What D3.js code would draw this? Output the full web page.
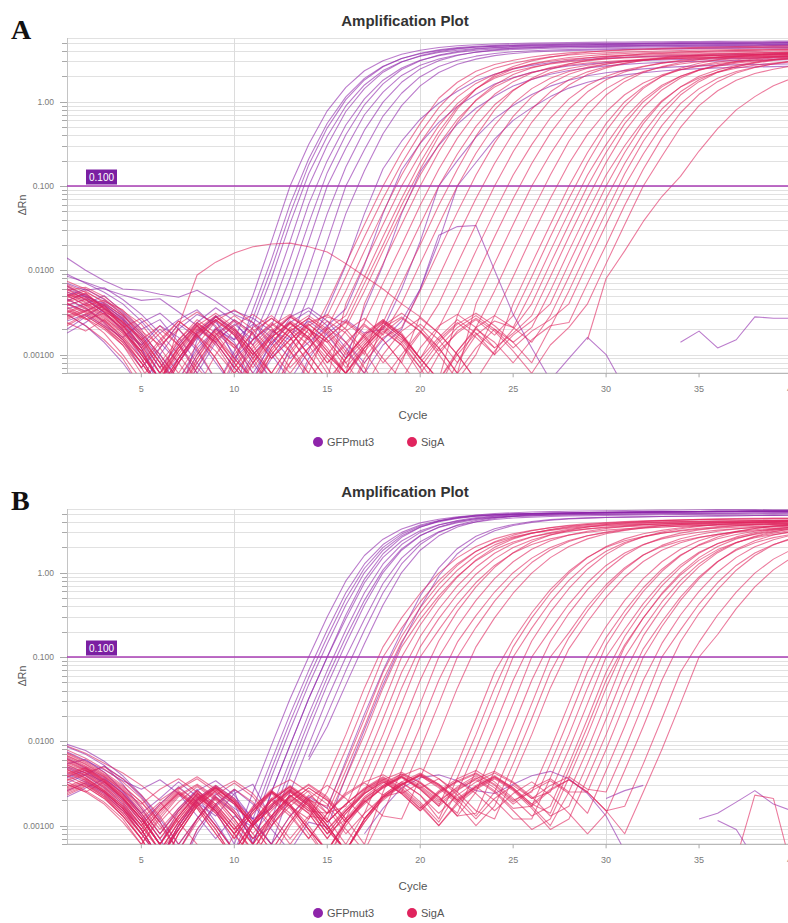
<!DOCTYPE html>
<html>
<head>
<meta charset="utf-8">
<script src="https://cdn.jsdelivr.net/npm/d3@7"></script>
<style>
  body { margin: 0; background: #fff; }
  svg { font-family: "Liberation Sans", Arial, sans-serif; }
</style>
</head>
<body>
<svg id="chart" width="788" height="923"></svg>
<script>
// ---- Data -------------------------------------------------------------------
// Each row: [first cycle, ΔRn x 1000 at consecutive cycles ...]; 0 = no point.
const cycleTicks = [5, 10, 15, 20, 25, 30, 35, 40];
const cycleGrid = [10, 20, 30];
const yLabelValues = [0.001, 0.01, 0.1, 1];
const yLabelText = ["0.00100", "0.0100", "0.100", "1.00"];
const thresholdValue = 0.1;
const targetNames = ["GFPmut3", "SigA"];
const targetColors = ["#8e24aa", "#e0245e"];

const gfpA = [
  [1, 5,6,4.5,3,1.8,1,0.5,1.2,2, 1.5,5,22,100,310,780,1480,2330,3070,3660,4080,4400,4610,4750,4830,4900,4950,4990,5030,5060,5090,5110,5130,5150,5170,5180,5200,5210,5220,5230,5240],
  [1, 3.5,4,5,3.2,2,2.6,1.4,0.6,0.3,0.8, 3.4,13.5,61,209,555,1140,1890,2640,3260,3710,4050,4290,4450,4540,4600,4650,4700,4700,4750,4800,4800,4850,4850,4900,4900,4900,4950,4950,5000,5000],
  [1, 6.5,5,3.8,2.4,1.2,0.4,0.3,1.5,2.8,3.3, 2.7,10.5,47,178,490,1060,1810,2600,3250,3750,4120,4380,4550,4660,4730,4790,4830,4870,4900,4930,4960,4980,5000,5020,5040,5060,5070,5080,5090,5100],
  [1, 2.5,3,2.2,1.6,2.4,3.1,2,1.1,0.5,0.3, 2.2,8.1,36,140,390,890,1580,2340,2980,3470,3830,4080,4270,4370,4440,4490,4530,4570,4600,4630,4650,4670,4690,4710,4720,4730,4740,4750,4760,4770],
  [1, 9,7,5.5,4,2.5,1.4,0.8,1.6,2.6,0.9, 1.5,5,22,100,305,765,1430,2240,2960,3520,3930,4230,4440,4570,4650,4710,4760,4800,4830,4860,4890,4910,4930,4950,4970,4980,4990,5000,5010,5020],
  [1, 4,3.3,4.2,2.8,1.5,0.7,1.3,2.4,3.6,2.5,1.3, 3.4,13.5,61,200,530,1080,1800,2510,3100,3520,3850,4080,4230,4310,4370,4420,4460,4490,4520,4540,4560,4580,4600,4610,4620,4630,4640,4650,4660],
  [1, 1.8,2.4,3.5,2.6,1.2,0.5,0.3,0.6,1.4,2.3,1.5, 2.2,8.1,36,144,405,920,1630,2410,3070,3580,3950,4210,4400,4510,4580,4640,4690,4730,4760,4790,4810,4830,4850,4870,4880,4890,4900,4910,4920],
  [1, 7,5.8,6.2,4.5,3,1.8,2.6,3.4,2.1,1,0.5, 1.5,5,22,100,280,700,1300,2050,2700,3210,3580,3860,4050,4170,4240,4300,4340,4380,4410,4440,4460,4480,4500,4520,4530,4540,4550,4560,4570],
  [1, 3,2.2,1.4,0.8,0.4,1,2,3,2.4,1.5,2.3,1.3, 2.7,10.5,47,168,460,990,1700,2450,3070,3530,3880,4120,4290,4380,4450,4510,4550,4590,4620,4650,4670,4690,4710,4730,4740,4750,4760,4770],
  [1, 5.5,4.8,3.2,1.9,1.3,2.2,1.6,0.8,0.4,1.1,2.7,1.9, 1.5,5,22,100,270,675,1260,1980,2610,3100,3470,3740,3920,4030,4100,4160,4200,4240,4270,4300,4320,4340,4360,4380,4390,4400,4410,4420],
  [1, 4.4,5.2,3.6,2.3,1,0.5,0.9,1.8,2.9,1.7,0.8,0.4,1.2, 2.7,10.5,47,152,417,900,1540,2220,2780,3200,3520,3740,3890,3980,4040,4090,4130,4160,4190,4220,4240,4260,4280,4290,4300,4310,4320],
  [1, 2,2.8,3.9,2.7,1.4,0.6,0.3,0.7,1.7,2.6,1.8,1,0.5,1.1, 3.5,11.5,47,160,340,620,960,1330,1770,2120,2440,2700,2900,3060,3190,3290,3370,3430,3470,3510,3550,3580,3600,3620,3640,3660],
  [1, 14,10,7.5,6,5.8,5.2,4.8,5.8,4.3,3,2.4,1.6,0.9,1.4,2.2, 3.5,11.5,47,155,320,570,880,1220,1620,1930,2230,2470,2650,2790,2910,3000,3080,3130,3170,3210,3240,3270,3290,3310,3330],
  [1, 8.5,7.2,6,5.1,4.4,4.6,3.2,2.2,1.4,0.7,0.4,0.9,1.7,2.5,1.7,0.9, 3.5,11.5,47,148,304,542,837,1160,1540,1840,2120,2350,2520,2660,2770,2860,2930,2980,3020,3055,3085,3110,3130,3150],
  [1, 3.8,4.6,3.1,2,0.9,0.4,0.8,1.9,2.8,2,1.1,0.5,0.3,0.9,1.8,2.6,1.8, 2,6,22,100,200,380,630,900,1220,1530,1800,2030,2210,2340,2450,2540,2610,2660,2700,2740,2760,2790,2810],
  [1, 6,4.9,4,2.6,1.7,0.9,0.4,1,2.1,1.4,0.6,1.3,2.4,3.3,2.2,1.2,0.6,1.3, 2,6,22,100,190,360,600,850,1150,1450,1700,1910,2080,2210,2310,2400,2470,2520,2550,2580,2610,2640],
  [1, 4.5,3.6,2.4,1.5,0.7,1.2,2.3,1.6,0.8,0.4,1,1.8,2.8,3.6,2.5,1.4,0.8,1.5,2.5, 6,26,33,34,10,3,1.2,0.5,0.9,1.6,1,0.4],
  [34, 1.4,1.9,1.2,1.5,2.8,2.7,2.7]
];

const sigaA = [
  [1, 5.2,4.6,3.9,2.1,1.1,0.5,1.3,2.4,1.6,0.8,0.4,1.2,2.1,1.5, 4,12,35,100,250,550,1100,1700,2300,2760,3100,3390,3620,3800,3910,4000,4080,4140,4200,4250,4300,4340,4370,4390,4420,4440],
  [1, 6.8,5.5,4.3,3.4,2,0.9,0.4,0.8,1.7,2.6,1.8,0.9,1.5,2.4, 2.9,8.4,25,71,185,424,850,1440,2000,2490,2860,3160,3400,3580,3710,3800,3880,3940,3990,4050,4100,4140,4170,4190,4210,4240],
  [1, 3.1,3.8,4.4,3,1.6,0.8,0.3,0.7,1.5,2.2,3,2.1,1.1,0.6, 2.1,5.7,17,49,135,325,670,1140,1650,2120,2490,2780,3020,3200,3330,3430,3500,3565,3615,3665,3710,3750,3780,3805,3825,3845],
  [1, 4.3,5.4,3.5,2.4,1.5,2.2,1.3,0.6,0.3,0.9,1.9,2.7,1.9,1,0.5, 4,12,35,100,240,520,950,1430,1900,2280,2570,2800,2990,3140,3230,3310,3370,3420,3470,3520,3550,3580,3610,3630,3650],
  [1, 2.2,2.9,2.1,1.3,0.6,0.3,0.8,1.6,2.5,3.4,2.4,1.4,0.7,1.2,2, 2.9,8.4,25,71,190,440,870,1410,1970,2440,2810,3100,3340,3510,3640,3730,3810,3870,3920,3970,4020,4060,4090,4120,4140],
  [1, 5.8,6.3,4.9,3.3,2.3,1.2,0.6,1.3,2.5,1.7,0.9,0.4,0.8,1.7,2.8, 2.4,7,20,59,158,390,820,1420,2050,2620,3050,3380,3660,3860,4020,4130,4220,4290,4350,4410,4460,4510,4540,4570,4600],
  [1, 3.6,2.7,1.8,1,0.5,1.2,2.3,3.2,2.2,1.2,0.5,0.3,1,2,1.4, 2.1,5.7,17,49,135,310,620,1030,1490,1910,2240,2500,2720,2880,3000,3090,3150,3210,3250,3300,3340,3380,3400,3420,3440],
  [1, 6.1,4.4,3.2,2.5,1.4,0.7,1.4,2.2,1.3,0.6,1.1,1.9,2.9,2,1,0.6, 4,12,35,100,255,570,1050,1580,2100,2520,2840,3100,3310,3470,3570,3650,3730,3780,3830,3890,3930,3960,3990,4010],
  [1, 2.8,3.4,2.5,1.7,0.9,0.4,0.9,1.8,2.6,1.7,0.8,1.4,2.3,1.6,0.8,1.3, 2.4,7,20,59,158,370,740,1225,1730,2190,2545,2820,3050,3220,3350,3440,3515,3575,3625,3675,3720,3755,3785,3810],
  [1, 4.9,5.7,4.1,2.9,1.8,1,0.5,1.1,2,1.3,0.6,0.3,0.8,1.6,2.5,1.8,1, 4,12,35,100,240,510,920,1380,1840,2210,2480,2710,2900,3040,3130,3200,3270,3310,3360,3400,3440,3470,3500],
  [1, 3.3,2.6,3.1,2.2,1.2,0.6,1.5,2.6,1.8,0.9,0.5,1.1,2.1,2.9,2,1.1,0.6, 2.4,7,20,59,158,390,800,1350,1900,2410,2800,3100,3360,3540,3690,3780,3870,3930,3990,4040,4090,4130,4160],
  [1, 7.4,6,4.6,3.1,1.9,1.3,2,1.2,0.5,0.3,0.8,1.7,1.1,0.5,1,1.9,2.7,1.7, 4,12,35,100,245,525,950,1430,1900,2280,2570,2800,2990,3140,3230,3310,3370,3420,3470,3520,3550,3580],
  [1, 4.1,3.2,2.3,1.5,0.8,0.4,0.9,1.7,2.8,1.9,1,1.6,2.4,1.5,0.7,0.3,0.8,1.6, 2.1,5.7,17,49,135,325,670,1140,1650,2120,2490,2780,3020,3200,3330,3430,3500,3565,3615,3665,3710,3750],
  [1, 5,3.9,2.8,1.8,1.1,1.8,1,0.5,0.3,0.7,1.5,2.3,1.6,0.8,0.4,1.1,2.2,1.5,0.8, 2.9,8.4,25,71,185,424,820,1310,1820,2260,2600,2870,3090,3250,3370,3450,3530,3580,3630,3680,3725],
  [1, 2.6,3.3,4,2.9,1.7,0.8,0.4,0.9,2,2.9,2,1.1,0.6,1.2,2.1,1.4,0.7,0.3,0.9,1.8, 4,12,35,100,255,570,1050,1580,2100,2520,2840,3100,3310,3470,3570,3650,3730,3780,3830,3890],
  [1, 6.4,4.8,3.5,2.2,1.3,0.6,1.2,2.1,1.4,0.7,0.4,1,1.9,2.7,1.8,0.9,1.5,2.4,1.6,0.9, 2.1,5.7,17,49,135,310,640,1080,1570,2010,2370,2640,2870,3040,3160,3260,3330,3390,3430,3480],
  [1, 3.9,4.5,3.2,2,1,0.5,0.3,0.9,1.8,1.2,2.1,2.9,1.9,1,0.5,0.9,1.7,2.6,1.7,0.9,0.5, 2.9,8.4,25,71,185,424,820,1310,1820,2260,2600,2870,3090,3250,3370,3450,3530,3580,3630],
  [1, 5.6,4.2,3,2.1,2.7,1.6,0.8,0.4,1,2,1.3,0.6,1.3,2.2,3,2,1.1,0.5,1,1.9,1.2,0.6, 4,12,35,100,240,520,950,1430,1900,2280,2570,2800,2990,3140,3230,3310,3370,3420],
  [1, 2.4,1.9,2.6,1.8,1,0.5,1.1,2.2,3.1,2.1,1.1,0.6,0.3,0.8,1.6,2.4,1.6,0.8,1.4,2.3,1.5,0.8, 2.1,5.7,17,49,135,340,700,1200,1730,2230,2610,2920,3170,3360,3500,3600,3680,3740],
  [1, 4.7,5.3,3.7,2.5,1.5,0.8,0.4,1,1.9,1.3,0.7,1.4,2.4,1.6,0.9,0.5,1.2,2.1,2.8,1.9,1,0.5,1, 2.9,8.4,25,71,185,410,760,1210,1670,2080,2390,2640,2840,2990,3100,3170,3250],
  [1, 3.4,2.7,2,1.3,0.7,1.4,2.5,1.7,0.9,0.4,0.8,1.6,2.5,1.8,1,0.6,1.3,2.2,1.5,0.8,1.5,2.4,1.6,1, 4,12,35,100,250,550,1000,1500,2000,2400,2700,2950,3150,3300,3400,3480],
  [1, 6.6,5.1,3.6,2.4,1.6,0.8,1.5,2.4,1.6,0.9,0.5,1.2,2,1.3,0.6,0.3,0.9,1.8,2.7,1.9,1.1,1.8,2.6,1.7, 2.9,8.4,25,71,190,450,880,1440,2000,2490,2860,3160,3400,3580,3710,3800],
  [1, 2.9,3.6,2.6,1.6,0.9,0.4,0.8,1.7,2.6,1.8,1,1.7,2.8,2,1.1,0.6,1.2,2,1.3,0.7,0.3,0.8,1.7,2.5, 2.1,5.7,17,49,135,310,640,1080,1570,2010,2370,2640,2870,3040,3160,3260],
  [1, 5.1,3.8,2.7,1.9,1.1,0.5,1.1,2,2.9,2,1.1,0.6,1.3,2.3,1.5,0.8,0.4,1,1.9,2.7,1.8,1,0.5,1.1,2, 4,12,35,100,250,550,1000,1500,2000,2400,2700,2950,3150,3300,3400],
  [1, 4.2,4.9,3.4,2.2,1.2,2,1.3,0.7,0.4,1,1.8,2.7,1.9,1,1.6,2.5,1.7,0.9,0.5,1.2,2.2,3,2.1,1.2,1.8, 2.9,8.4,25,71,190,445,860,1380,1910,2370,2730,3010,3240,3410,3540],
  [1, 3.7,2.9,2.1,1.4,0.7,0.3,0.9,1.9,2.8,1.9,1,0.5,1.1,2,1.4,0.7,1.3,2.2,3.1,2.1,1.2,0.6,1.2,2,1.4, 2.1,5.7,17,49,135,300,600,1030,1490,1910,2240,2500,2720,2880,3000],
  [1, 5.9,4.5,3.3,2.3,1.3,0.6,1.2,2.2,1.5,0.8,1.5,2.4,1.6,0.8,0.4,0.9,1.8,2.6,1.8,0.9,1.6,2.6,1.8,1,1.7,2.5, 4,12,35,100,250,550,1000,1500,2000,2400,2700,2950,3150,3300],
  [1, 2.3,3,3.8,2.7,1.5,0.7,0.3,0.8,1.6,2.5,1.7,0.9,1.5,2.3,1.5,0.8,1.4,2.4,1.6,0.8,0.4,1.1,2.1,2.9,2.1,1.4, 2.9,8.4,25,71,185,424,820,1310,1820,2260,2600,2870,3090,3250],
  [1, 4.6,3.5,2.5,1.6,0.8,1.5,2.5,1.7,0.9,0.4,0.9,1.8,2.8,2,1.1,0.6,1.2,2.1,1.4,0.7,1.4,2.3,3.1,2.2,1.4,0.8, 2.1,5.7,17,49,140,340,700,1200,1730,2230,2610,2920,3170,3360],
  [1, 3.2,4,2.9,1.9,1.1,0.5,1,2,1.4,0.7,1.3,2.2,3,2.1,1.2,0.6,1.1,1.9,1.3,0.6,1.2,2.1,2.9,2,1.2,1.9,2.6, 4,12,35,100,240,520,950,1430,1900,2280,2570,2800,2990],
  [1, 5.3,4.1,3,2,1,0.5,1.2,2.3,1.6,0.8,0.4,1,1.9,2.7,1.9,1,1.6,2.5,1.7,0.9,0.5,1.1,2,1.4,0.8,1.5,2.2, 2.4,7,20,59,158,370,740,1225,1730,2190,2545,2820,3050],
  [1, 2.7,3.3,2.4,1.5,0.8,0.4,0.9,1.8,2.6,1.8,0.9,1.6,2.4,1.6,0.8,1.4,2.3,1.5,0.8,0.4,1,1.9,2.7,1.9,1.1,0.6,1.3,2.1, 4,12,35,100,225,495,900,1350,1800,2160,2430,2660],
  [1, 3,2.2,1.5,0.9,0.4,0.3,0.8,1.7,1.1,0.6,1.2,2,1.3,0.6,0.3,0.9,1.7,2.5,1.7,0.9,0.5,1,1.8,1.2, 0,0,0,0, 1.5,8,17,38,75,130,260,480,800,1150,1550,1900],
  [1, 4,3.1,2.2,1.4,0.8,0.4, 2.2,8.8,12.5,16,19,20.5,21,19,16.5,12,8.5,6,4,2.8,1.8,1,0.5,0.3]
];

const gfpB = [
  [1, 8.6,7,5.2,3.1,1.6,0.8,1.6,2.7,1.5, 0.6,2.5,9,32,100,300,800,1600,2500,3300,3900,4300,4600,4800,4900,5000,5050,5100,5140,5180,5210,5240,5270,5290,5310,5330,5350,5370,5390,5400,5410],
  [1, 5.4,6.1,4.3,2.6,1.4,2.1,3.3,2.2,1.1,0.5, 1.6,5.9,21,69,209,578,1270,2160,3010,3690,4160,4500,4730,4880,4970,5030,5080,5125,5165,5200,5230,5260,5280,5300,5320,5340,5360,5380,5395,5410],
  [1, 3.2,4,5.1,3.6,2.2,1.1,0.5,1.2,2.4,1.6, 1.2,4.7,17,57,173,490,1130,2000,2870,3590,4090,4450,4700,4850,4950,5025,5075,5120,5160,5195,5225,5255,5280,5300,5320,5340,5360,5380,5395,5410],
  [1, 7.5,5.9,4.6,3.4,2.7,3.5,2.4,1.3,0.7,1.3, 0.96,3.8,13.7,47,144,415,1005,1850,2740,3490,4030,4400,4670,4830,4930,5010,5065,5110,5150,5190,5220,5250,5275,5295,5315,5335,5355,5375,5390,5400],
  [1, 2.6,3.2,2.4,1.5,0.8,0.4,1,2,2.9,1.8, 0.6,2.5,9,32,100,285,760,1520,2380,3140,3700,4090,4370,4560,4660,4750,4800,4850,4880,4920,4950,4980,5010,5030,5040,5060,5080,5100,5120,5130],
  [1, 5,4.2,3.3,2.1,1.2,0.6,0.3,0.8,1.7,2.6, 0.6,2.5,9,32,100,315,840,1680,2630,3470,4100,4520,4830,5040,5150,5250,5300,5360,5400,5440,5470,5500,5530,5550,5580,5600,5620,5640,5660,5680],
  [1, 6.3,4.8,3.7,2.4,1.3,0.6,1.5,2.6,3.4,2.3,1.2, 1.6,5.9,21,69,209,578,1270,2160,3010,3690,4160,4500,4730,4880,4970,5030,5080,5125,5165,5200,5230,5260,5280,5300,5320,5340,5360,5380,5395],
  [1, 4.1,3.3,2.5,1.6,0.9,0.4,0.9,1.9,1.3,2.4,3.1, 1.2,4.7,17,57,173,470,1080,1920,2760,3450,3930,4270,4510,4660,4750,4820,4870,4920,4950,4990,5020,5040,5070,5090,5110,5130,5150,5160,5180],
  [1, 9.2,7.8,5.8,3.9,2.3,1.2,0.6,1.2,2.2,1.4,0.7, 0.96,3.8,13.7,47,144,415,1005,1850,2740,3490,4030,4400,4670,4830,4930,5010,5065,5110,5150,5190,5220,5250,5275,5295,5315,5335,5355,5375,5390],
  [1, 3.7,4.5,3.1,2,1.1,1.8,2.9,1.9,1,0.5,1.1, 0.6,2.5,9,32,100,280,745,1490,2330,3070,3630,4000,4280,4460,4560,4650,4700,4740,4780,4820,4850,4870,4900,4920,4940,4960,4980,4990,5010],
  [14, 6.5,21,69,209,578,1270,2160,3010,3690,4160,4500,4730,4880,4970,5030,5080,5125,5165,5200,5230,5260,5280,5300,5320,5340,5360,5380],
  [14, 6,15,47,144,415,1005,1850,2740,3490,4030,4400,4670,4830,4930,5010,5065,5110,5150,5190,5220,5250,5275,5295,5315,5335,5355,5375],
  [1, 2.2,2.8,3.6,2.5,1.4,0.7,0.3,0.9,1.8,2.7,1.8,0.9,0.5,1.1, 0.96,3.8,13.7,47,144,390,920,1680,2470,3140,3630,3960,4200,4350,4440,4510,4560,4600,4640,4670,4700,4730,4750,4770,4790,4800],
  [1, 4.8,3.9,2.8,1.8,0.9,0.4,1,2.1,3,2.1,1.2,0.6,1.3,2.2, 1.6,5.9,21,69,200,530,1140,1940,2710,3320,3740,4050,4260,4390,4470,4530,4570,4610,4650,4680,4710,4730,4750,4770,4790,4810],
  [17, 0.8,1.6,2.8,3.7,4,3.4,2.6,2.4,3.1,3.9,4.4,3.6,2.4,1.3,0.5],
  [30, 2.1,2.6,3],
  [35, 1.2,1.4,1.9,2.6,1.8,1.5],
  [36, 1.15,0.9,0.4]
];

const sigaB = [
  [1, 6.2,5,3.8,2.6,1.8,2.7,3.6,2.5,1.4,0.7,1.4,2.5,1.7, 1.2,3.7,12,43,132,291,571,990,1510,2050,2520,2900,3180,3410,3600,3730,3830,3900,3960,4015,4060,4085,4110,4135,4155,4175,4190],
  [1, 3.5,4.3,5,3.6,2.3,1.3,0.6,1.2,2.3,3.2,2.2,1.2,0.6,1.2, 2.5,8,28,100,220,450,810,1280,1800,2280,2660,2950,3180,3370,3520,3610,3690,3750,3800,3850,3880,3900,3920,3940,3960,3980],
  [1, 8.8,7.2,5.5,4.2,3,2,2.8,3.8,2.7,1.5,0.8,0.4,1,2, 1.7,5.4,18.5,66,175,385,730,1220,1790,2330,2790,3140,3430,3650,3830,3950,4040,4120,4180,4230,4270,4300,4330,4350,4370,4390],
  [1, 4.6,3.7,2.6,1.7,1,1.7,2.7,3.6,2.5,1.4,0.7,1.3,2.3,1.5, 1.4,4.5,15,53,152,330,630,1070,1600,2140,2590,2950,3220,3450,3620,3750,3840,3910,3975,4025,4065,4090,4115,4140,4160,4180],
  [1, 2.4,3,2.2,1.3,0.7,0.3,0.8,1.7,2.6,3.4,2.4,1.3,0.7,1.3, 1.2,3.7,12,43,132,280,530,910,1390,1890,2320,2670,2930,3140,3310,3430,3520,3590,3640,3690,3740,3760,3780,3800,3820,3840],
  [1, 5.7,4.5,3.3,2.2,1.2,0.6,1.3,2.4,1.6,0.9,1.6,2.7,3.5,2.5,1.4, 2.5,8,28,100,240,490,890,1420,2000,2520,2940,3260,3520,3730,3890,3990,4070,4150,4200,4250,4280,4310,4340,4360,4380],
  [1, 3.9,4.8,3.4,2.1,1.1,0.5,0.9,1.8,2.8,1.9,1,0.5,1.1,2.1,1.4, 1.7,5.4,18.5,66,175,371,698,1160,1700,2220,2660,2990,3270,3480,3650,3760,3850,3925,3980,4030,4070,4095,4120,4140,4160],
  [1, 7.1,5.6,4.1,2.9,1.9,1.1,1.9,2.9,2,1.1,0.6,1.3,2.2,1.5,0.8, 1.2,3.7,12,43,132,285,555,960,1460,1990,2440,2810,3080,3310,3490,3620,3720,3780,3840,3890,3940,3960,3990,4010,4030],
  [1, 2.9,3.6,2.6,1.6,0.9,0.4,1,2,2.9,2,1.1,1.8,2.6,1.7,0.9,1.5, 2.5,8,28,100,210,425,765,1220,1710,2160,2520,2790,3020,3200,3330,3420,3490,3560,3600,3650,3670,3690,3720,3740],
  [1, 4.4,3.5,2.5,1.6,0.8,1.5,2.4,1.6,0.8,0.4,1.1,2.1,3,2.1,1.2,0.6, 1.4,4.5,15,53,155,350,680,1160,1730,2310,2800,3190,3480,3730,3910,4050,4150,4220,4290,4350,4390,4420,4440,4470],
  [1, 6.7,5.3,3.9,2.7,1.6,0.8,1.5,2.6,1.8,1,0.5,1.2,2.2,3.1,2.2,1.2,0.6, 2.5,8,28,100,230,470,850,1350,1900,2400,2800,3100,3350,3550,3700,3800,3880,3950,4000,4050,4080,4100,4130],
  [1, 3.1,2.5,3.3,2.3,1.3,0.6,0.3,0.9,1.8,2.7,1.9,1,1.7,2.6,1.8,0.9,0.5, 1.4,4.5,15,53,150,310,590,1000,1490,1990,2410,2740,2990,3210,3370,3490,3570,3640,3700,3740,3780,3800,3830],
  [1, 5,4,2.9,1.9,1,0.5,1.1,2.1,3,2.1,1.1,0.6,1.3,2.3,1.6,0.8,1.4,2.2, 2.5,8,28,100,225,460,830,1320,1860,2350,2740,3040,3280,3480,3630,3720,3800,3870,3920,3970,4000,4020],
  [1, 3.8,4.6,3.3,2.1,1.2,1.9,1.1,0.6,0.3,0.8,1.7,2.5,1.7,0.9,0.5,1.1,2,1.3, 1.2,3.7,12,43,132,291,571,990,1510,2050,2520,2900,3180,3410,3600,3730,3830,3900,3960,4015,4060,4085],
  [1, 6,4.7,3.5,2.4,1.4,0.7,1.3,2.3,1.5,0.8,0.4,1,1.9,2.8,2,1.1,1.8,2.9,3.8,2.7, 1.7,5.4,18.5,66,160,335,630,1040,1530,2000,2390,2690,2940,3130,3290,3380,3470,3530,3580,3630],
  [1, 2.7,3.3,2.4,1.5,0.8,0.4,0.9,1.9,2.8,1.9,1,1.7,2.7,1.8,1,0.5,1.2,2.3,3.3,2.3, 1.2,3.7,12,43,132,291,571,990,1510,2050,2520,2900,3180,3410,3600,3730,3830,3900,3960,4015],
  [1, 4.9,3.9,2.8,1.8,1,1.8,2.8,1.9,1,0.5,1.1,2,1.3,0.7,1.4,2.4,3.3,4,3,1.9,1.1, 2.5,8,28,100,220,450,810,1280,1800,2280,2660,2950,3180,3370,3520,3610,3690,3750,3800],
  [1, 7.9,6.3,4.7,3.3,2.1,1.1,0.5,1.2,2.2,1.5,0.8,1.5,2.5,1.7,0.9,1.6,2.6,3.5,4.3,3.2,2.1, 1.4,4.5,15,53,155,340,650,1100,1650,2200,2670,3040,3320,3550,3730,3860,3960,4030,4090],
  [1, 3.3,2.6,1.9,1.2,0.6,1.3,2.3,3.1,2.2,1.2,0.6,1.2,2,1.4,0.7,1.4,2.4,3.3,2.4,3.2,2.2,1.3, 2.5,8,28,100,210,425,765,1220,1710,2160,2520,2790,3020,3200,3330,3420,3490,3560],
  [1, 5.2,4.2,3,2,1.1,0.5,1.1,2.1,1.4,0.7,1.4,2.4,1.6,0.8,0.4,1.1,2.1,3,4.1,3.3,2.2,1.3, 1.4,4.5,15,53,152,330,630,1070,1600,2140,2590,2950,3220,3450,3620,3750,3840,3910],
  [1, 4.1,4.9,3.5,2.2,1.2,0.6,1.3,2.4,1.7,0.9,0.5,1.2,2.2,3,2.1,1.2,1.9,2.9,3.9,4.8,3.6,2.3,1.3, 2.5,8,28,100,195,400,720,1150,1620,2040,2380,2640,2850,3020,3150,3230,3300],
  [1, 2.3,2.9,2.1,1.3,0.7,0.3,0.8,1.7,2.5,1.8,1,1.6,2.5,1.7,0.9,0.5,1.2,2.2,3.1,3.9,2.8,1.8,1, 1.7,5.4,18.5,66,170,352,663,1100,1620,2110,2530,2840,3110,3310,3470,3570,3660],
  [1, 6.5,5.1,3.8,2.6,1.5,0.8,1.5,2.5,1.7,0.9,1.6,2.6,1.8,1,0.5,1.1,2,2.9,3.8,2.8,3.6,2.5,1.5, 1.2,3.7,12,43,125,262,514,890,1360,1850,2270,2610,2860,3070,3240,3360,3450],
  [1, 3.6,2.9,2.1,1.3,0.7,1.4,2.4,1.6,0.8,0.4,1,2,2.9,2,1.1,1.8,2.7,3.6,2.6,1.6,2.5,3.4,4.2,3.1,2, 2.5,8,28,100,230,470,850,1350,1900,2400,2800,3100,3350,3550,3700],
  [1, 5.8,4.6,3.4,2.3,1.3,0.6,1.2,2.2,1.5,0.8,1.5,2.6,1.8,0.9,0.5,1.2,2.2,3.2,4.1,3,2,2.8,3.7,2.6,1.6, 1.7,5.4,18.5,66,170,352,663,1100,1620,2110,2530,2840,3110,3310,3470],
  [1, 2.6,3.2,2.3,1.4,0.8,0.4,0.9,1.8,2.7,1.9,1,0.5,1.1,2.1,3,2.1,1.2,2,3,4,3,2,2.9,2,1.2, 1.2,3.7,12,43,138,305,600,1040,1590,2150,2650,3050,3340,3580,3780],
  [1, 4.7,3.7,2.7,1.7,0.9,1.6,2.6,1.8,1,0.5,1.1,2.1,1.4,0.7,1.4,2.3,3.2,2.3,3.3,4.2,3.1,2,1.2,2.1,3,2.1, 2.5,8,28,100,212,430,780,1240,1750,2210,2580,2850,3080,3270],
  [1, 7.3,5.8,4.3,3,1.9,1,0.5,1.1,2.1,1.4,0.7,1.3,2.3,1.6,0.8,1.5,2.5,3.5,2.5,1.6,2.6,3.6,4.5,3.3,2.1,1.3, 1.7,5.4,18.5,66,175,371,698,1160,1700,2220,2660,2990,3270,3480],
  [1, 3.4,4.1,2.9,1.9,1,0.5,1.1,2,2.9,2,1.1,1.8,2.8,1.9,1,0.5,1.2,2.2,3.1,4.1,3.1,2.1,3,3.9,2.8,1.8, 1.4,4.5,15,53,140,290,555,940,1410,1880,2280,2600,2830,3040],
  [1, 5.5,4.4,3.2,2.1,1.2,0.6,1.3,2.3,1.5,0.8,0.4,1,1.9,2.8,2,1.1,1.9,2.8,3.8,2.8,1.8,2.7,3.5,2.5,1.5,0.9, 1.2,3.7,12,43,132,291,571,990,1510,2050,2520,2900,3180,3410],
  [1, 2.8,3.4,2.5,1.6,0.9,0.4,1,2,2.8,1.9,1,1.7,2.6,1.8,0.9,0.5,1.1,2.1,3,3.9,2.9,1.9,2.8,3.7,2.7,1.7,1, 2.5,8,28,100,220,450,810,1280,1800,2280,2660,2950,3180],
  [1, 6.1,4.9,3.6,2.4,1.4,0.7,1.4,2.4,1.6,0.8,1.5,2.5,1.7,0.9,0.4,1,1.9,2.8,3.7,2.7,1.7,2.6,3.6,4.4,3.3,2.2,1.3, 1.7,5.4,18.5,66,178,378,712,1180,1730,2260,2710,3050,3340],
  [1, 4.3,3.4,2.5,1.6,0.8,1.5,2.5,1.7,0.9,0.4,1,2,2.9,2,1.1,1.8,2.7,3.7,2.7,1.7,1,1.8,2.7,3.6,2.6,1.6,0.9, 1.2,3.7,12,43,125,262,514,890,1360,1850,2270,2610,2860],
  [1, 3.1,2.5,1.8,1.1,0.6,1.2,2.2,3,2.1,1.2,0.6,1.3,2.3,1.6,0.8,1.5,2.4,3.4,2.4,1.5,2.4,3.3,4.1,3,1.9,2.8,3.6,2.5, 2.5,8,28,100,230,470,850,1350,1900,2400,2800,3100],
  [1, 5.3,4.2,3.1,2.1,1.2,0.6,1.2,2.2,1.5,0.8,1.5,2.5,1.7,0.9,0.5,1.1,2.1,3,3.9,2.9,1.9,2.9,3.9,2.8,1.8,2.6,3.4,2.4, 1.4,4.5,15,53,145,315,600,1020,1520,2030,2460,2800],
  [1, 2.5,3.1,2.2,1.4,0.7,0.3,0.8,1.7,2.6,1.8,1,1.7,2.7,1.9,1,0.5,1.2,2.2,3.2,2.3,1.4,2.3,3.3,4.2,3.2,2.1,3,3.8,2.7, 2.5,8,28,100,210,425,765,1220,1710,2160,2520],
  [1, 6.8,5.4,4,2.8,1.7,0.9,1.6,2.6,1.8,1,0.5,1.1,2.1,1.4,0.7,1.4,2.4,3.3,2.4,1.5,2.5,3.4,2.4,1.5,2.4,3.3,2.3,1.4,0.8, 1.4,4.5,15,53,152,330,630,1070,1600,2140,2590],
  [1, 3.9,3.1,2.3,1.5,0.8,1.5,2.5,1.7,0.9,0.4,1,2,2.9,2,1.1,1.8,2.8,3.8,2.8,1.8,1,1.9,2.9,3.8,2.8,1.8,2.7,3.5,2.5,1.5, 1.7,5.4,18.5,66,150,315,590,990,1450,1890],
  [1, 4.6,3.6,2.6,1.7,0.9,0.4,0.9,1.9,2.8,1.9,1,1.6,2.6,1.8,1,0.5,1.1,2.1,3.1,4,3,2,2.9,3.8,2.7,1.7,2.6,3.5,2.5,1.5,0.8, 2.5,8,28,100,185,375,680,1080,1520],
  [37, 0.4,2.3,2.1,0.3]
];

// ---- Drawing ----------------------------------------------------------------
const svg = d3.select("#chart");
const serif = "'Liberation Serif', 'Times New Roman', serif";

function drawPanel(top, letter, gfpRows, sigaRows) {
  const g = svg.append("g").attr("transform", `translate(0,${top})`);
  const x = d3.scaleLinear().domain([1, 40]).range([67, 792]);
  const y = d3.scaleLog().domain([0.0006, 5.7]).range([373.3, 38]);
  const yTop = y.range()[1], yBot = y.range()[0];

  g.append("text").attr("x", 11).attr("y", 39)
    .style("font-family", serif).attr("font-weight", "bold").attr("font-size", 28)
    .attr("fill", "#111").text(letter);
  g.append("text").attr("x", 405).attr("y", 26).attr("text-anchor", "middle")
    .attr("font-weight", "bold").attr("font-size", 15).attr("fill", "#333")
    .text("Amplification Plot");

  // grid: a line at every log tick (1..9 per decade)
  const minor = y.ticks();
  g.append("g").selectAll("line").data(minor).join("line")
    .attr("x1", 67).attr("x2", 792)
    .attr("y1", d => Math.round(y(d)) + 0.5).attr("y2", d => Math.round(y(d)) + 0.5)
    .attr("stroke", "#e1e1e1");
  g.append("line").attr("x1", 67).attr("x2", 792).attr("y1", yTop + 0.5).attr("y2", yTop + 0.5)
    .attr("stroke", "#e1e1e1");
  g.append("g").selectAll("line").data(cycleGrid).join("line")
    .attr("x1", d => Math.round(x(d)) + 0.5).attr("x2", d => Math.round(x(d)) + 0.5)
    .attr("y1", yTop).attr("y2", yBot).attr("stroke", "#dcdcdc");

  // y axis
  g.append("line").attr("x1", 67.5).attr("x2", 67.5).attr("y1", yTop).attr("y2", yBot)
    .attr("stroke", "#c4c4c4");
  g.append("g").selectAll("line").data(minor).join("line")
    .attr("x1", d => yLabelValues.includes(d) ? 60 : 62).attr("x2", 67)
    .attr("y1", d => Math.round(y(d)) + 0.5).attr("y2", d => Math.round(y(d)) + 0.5)
    .attr("stroke", "#aaa");
  g.append("g").selectAll("text").data(yLabelValues).join("text")
    .attr("x", 54).attr("y", d => y(d)).attr("dy", "0.35em").attr("text-anchor", "end")
    .attr("font-size", 8.5).attr("fill", "#7a7a7a")
    .text((d, i) => yLabelText[i]);
  g.append("text").attr("transform", "translate(26,205) rotate(-90)")
    .attr("text-anchor", "middle").attr("font-size", 10.5).attr("fill", "#555").text("ΔRn");

  // x axis
  g.append("line").attr("x1", 67).attr("x2", 792).attr("y1", yBot).attr("y2", yBot)
    .attr("stroke", "#b8b8b8").attr("stroke-width", 1.2);
  g.append("g").selectAll("line").data(cycleTicks).join("line")
    .attr("x1", d => x(d)).attr("x2", d => x(d)).attr("y1", yBot).attr("y2", yBot + 4)
    .attr("stroke", "#aaa");
  g.append("g").selectAll("text").data(cycleTicks).join("text")
    .attr("x", d => x(d)).attr("y", 392).attr("text-anchor", "middle")
    .attr("font-size", 9).attr("fill", "#7a7a7a").text(d => d);
  g.append("text").attr("x", 413).attr("y", 419).attr("text-anchor", "middle")
    .attr("font-size", 11.5).attr("fill", "#555").text("Cycle");

  // curves
  const clipId = "clip" + letter;
  g.append("clipPath").attr("id", clipId).append("rect")
    .attr("x", 67).attr("y", yTop).attr("width", 792 - 67).attr("height", yBot - yTop);
  const plot = g.append("g").attr("clip-path", `url(#${clipId})`);
  const toPoints = row => row.slice(1).map((v, i) => [row[0] + i, v / 1000]);
  const line = d3.line()
    .defined(d => d[1] > 0)
    .x(d => x(d[0]))
    .y(d => y(Math.max(d[1], 0.0002)));
  [[gfpRows, targetColors[0]], [sigaRows, targetColors[1]]].forEach(([rows, color]) => {
    plot.append("g").selectAll("path").data(rows).join("path")
      .attr("d", r => line(toPoints(r)))
      .attr("fill", "none").attr("stroke", color)
      .attr("stroke-width", 1.1).attr("stroke-opacity", 0.6)
      .attr("stroke-linejoin", "round");
  });

  // threshold
  const ty = y(thresholdValue);
  g.append("line").attr("x1", 67).attr("x2", 792).attr("y1", ty).attr("y2", ty)
    .attr("stroke", "#a83db4").attr("stroke-width", 1.6);
  g.append("rect").attr("x", 86).attr("y", ty - 16.5).attr("width", 31).attr("height", 15)
    .attr("fill", "#7b1fa2");
  g.append("text").attr("x", 101.5).attr("y", ty - 5.5).attr("text-anchor", "middle")
    .attr("font-size", 10).attr("fill", "#fff").text(thresholdValue.toFixed(3));

  // legend
  const legendX = [318, 412];
  targetNames.forEach((name, i) => {
    g.append("circle").attr("cx", legendX[i]).attr("cy", 442).attr("r", 5).attr("fill", targetColors[i]);
    g.append("text").attr("x", legendX[i] + 9).attr("y", 446)
      .attr("font-size", 11).attr("fill", "#555").text(name);
  });
}

drawPanel(0, "A", gfpA, sigaA);
drawPanel(471, "B", gfpB, sigaB);
</script>
</body>
</html>
